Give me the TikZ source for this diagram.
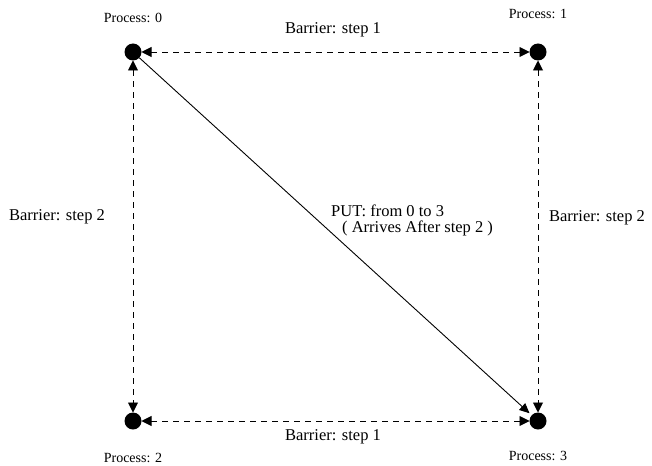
\documentclass[tikz,border=0pt]{standalone}
\usepackage{fontspec}
\setmainfont{Liberation Serif}
\usetikzlibrary{arrows.meta}
\begin{document}
\begin{tikzpicture}[x=1pt,y=-1pt,
 proc/.style={circle,fill=black,minimum size=17pt,inner sep=0pt,outer sep=0pt},
 plabel/.style={font=\fontsize{14}{16}\selectfont,inner sep=0pt},
 blabel/.style={font=\fontsize{16.5}{19}\selectfont,inner sep=0pt},
 barrier/.style={dash pattern=on 6pt off 5pt,line width=0.9pt,{Triangle[length=10pt,width=10pt]}-{Triangle[length=10pt,width=10pt]}},
 put/.style={line width=0.9pt,-{Triangle[length=10pt,width=9pt]},shorten >=3pt}]
\useasboundingbox (0,0) rectangle (652,465);
\node[proc] (p0) at (133,52) {};
\node[proc] (p1) at (538,52) {};
\node[proc] (p2) at (133,421) {};
\node[proc] (p3) at (538,421) {};
\node[plabel] (l0) at (133,18) {Process: 0};
\node[plabel] (l1) at (538,14) {Process: 1};
\node[plabel] (l2) at (133,458) {Process: 2};
\node[plabel] (l3) at (538,456) {Process: 3};
\draw[barrier] (p0) -- (p1);
\draw[barrier] (p2) -- (p3);
\draw[barrier] (p0) -- (p2);
\draw[barrier] (p1) -- (p3);
\draw[put] (p0) -- (p3);
\node[blabel] (b1) at (333,30) {Barrier: step 1};
\node[blabel] (b4) at (333,437) {Barrier: step 1};
\node[blabel] (b2) at (57,217) {Barrier: step 2};
\node[blabel] (b3) at (597,218) {Barrier: step 2};
\node[blabel,anchor=west] (t1) at (331,211) {PUT: from 0 to 3};
\node[blabel,anchor=west] (t2) at (342,228) {( Arrives After step 2 )};
\end{tikzpicture}
\end{document}
